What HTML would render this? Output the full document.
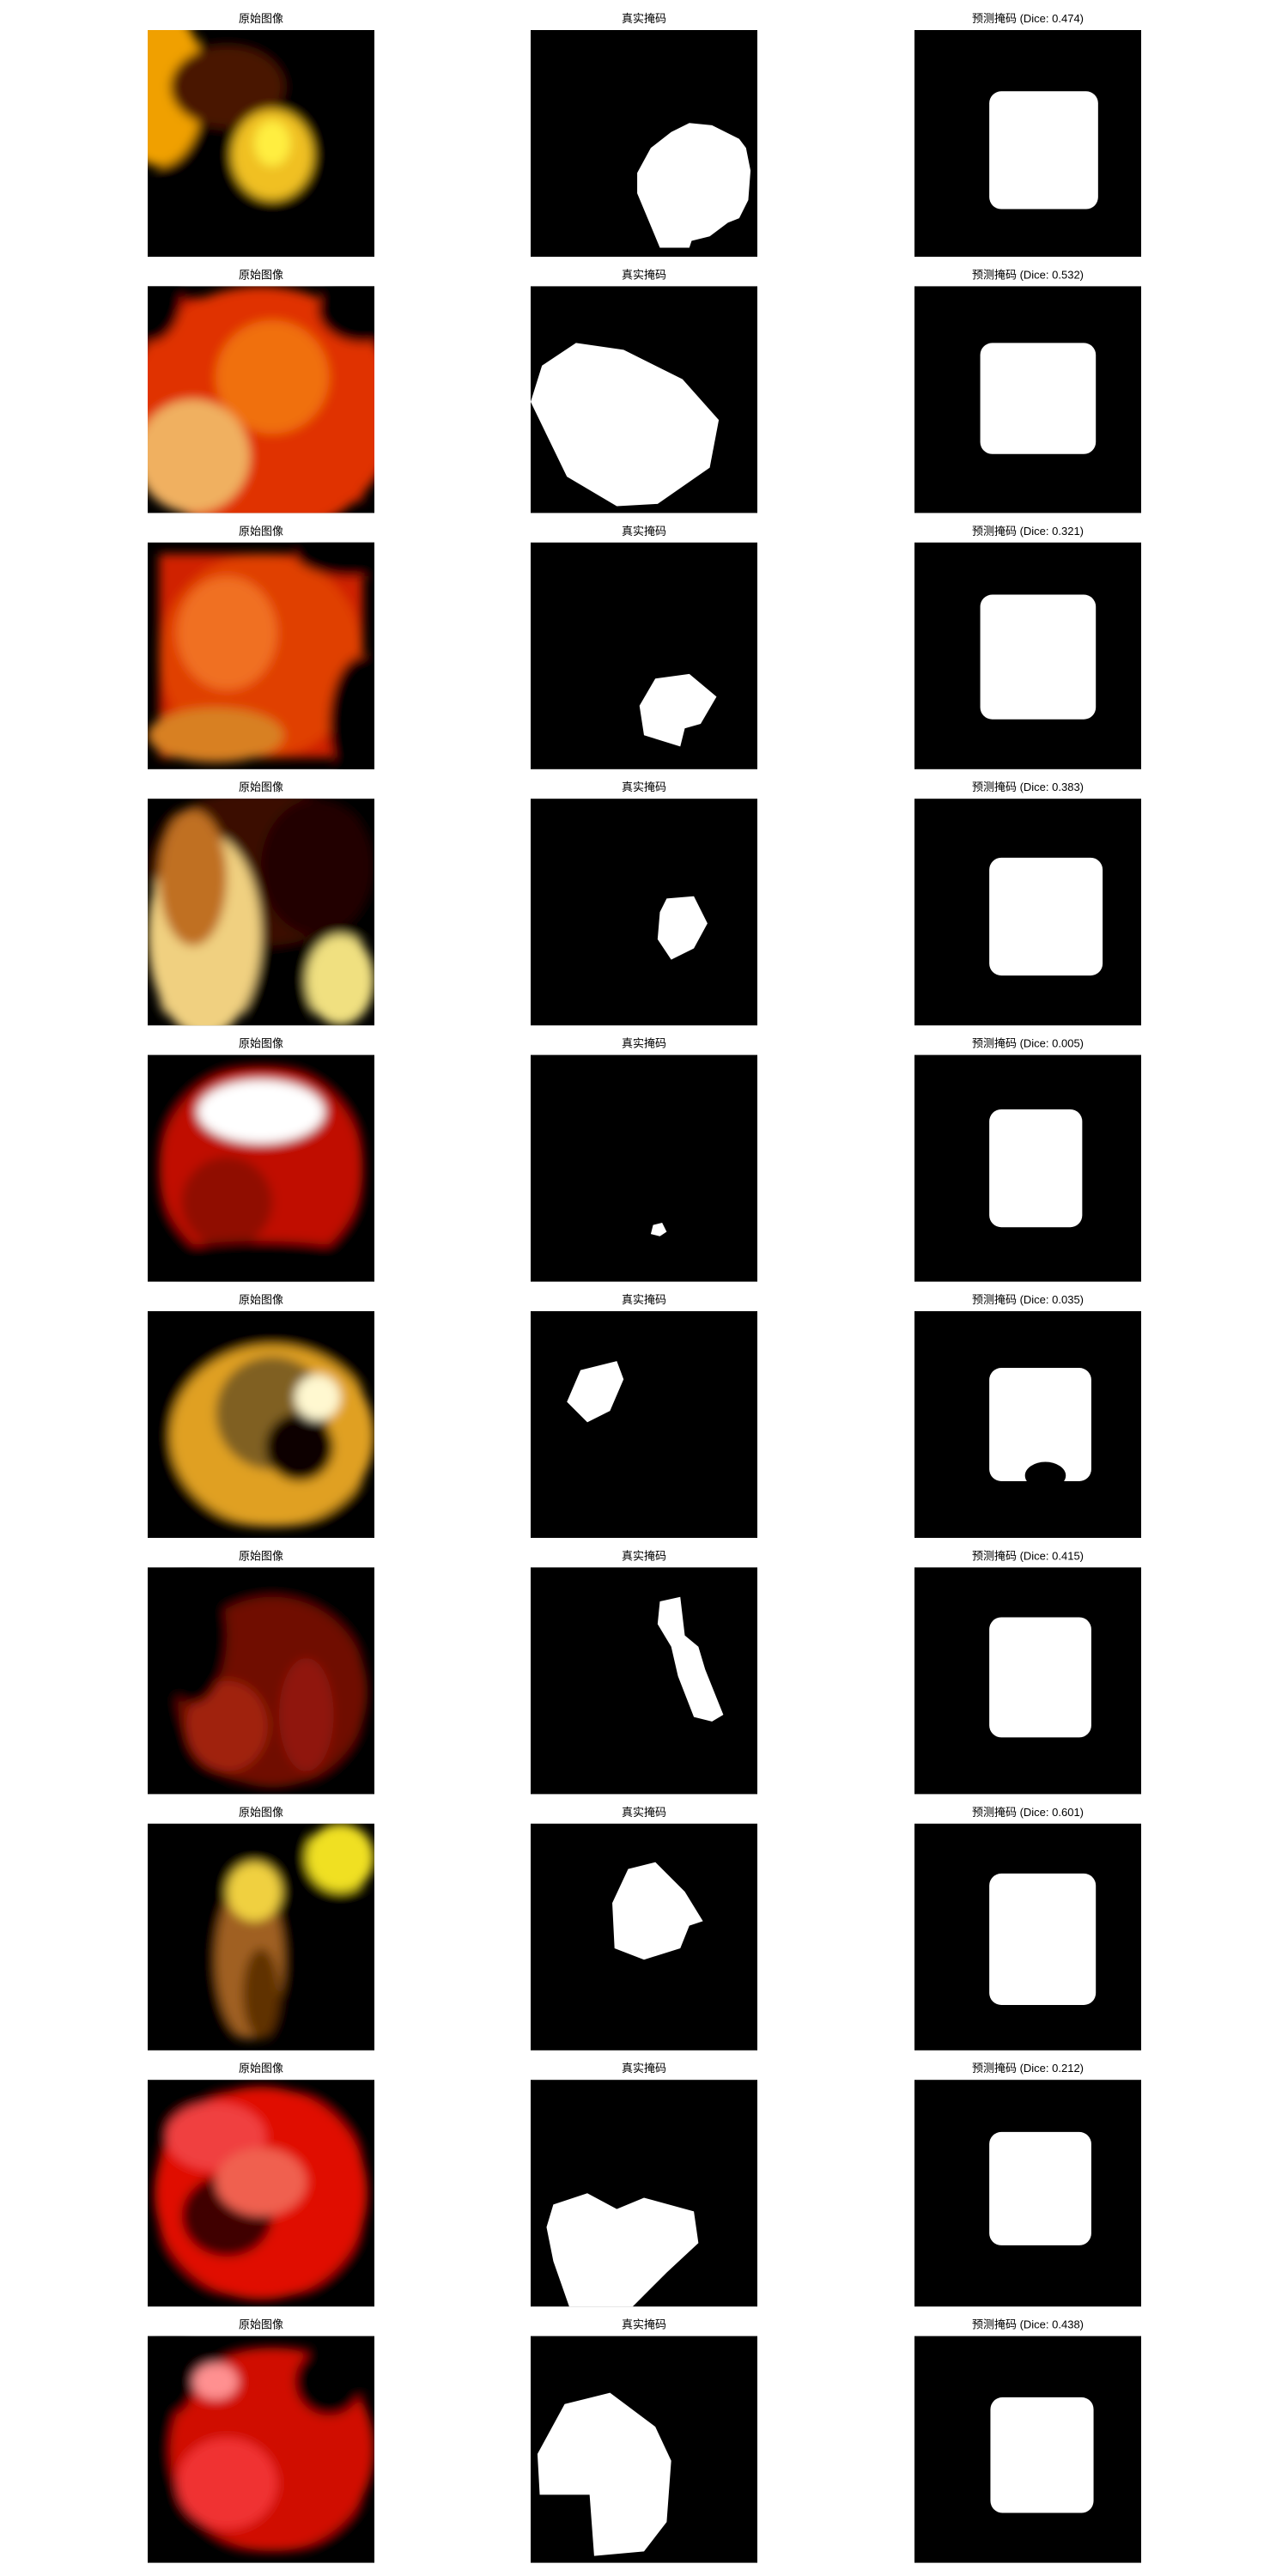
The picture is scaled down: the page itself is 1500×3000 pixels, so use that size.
<!DOCTYPE html>
<html><head><meta charset="utf-8">
<style>
html,body{margin:0;padding:0;background:#fff;width:1500px;height:3000px;overflow:hidden}
svg{display:block}
text{font-family:"Liberation Sans","Noto Sans CJK SC",sans-serif;font-size:13px;fill:#000}
</style></head>
<body>
<svg id="fig" width="1500" height="3000" xmlns="http://www.w3.org/2000/svg">
<defs>
<filter id="blur" x="-20%" y="-20%" width="140%" height="140%"><feGaussianBlur stdDeviation="6"/></filter>
<filter id="blur2"><feGaussianBlur stdDeviation="1.2"/></filter>
</defs>
</svg>
<script>
const NS="http://www.w3.org/2000/svg";
const diceScores=[0.474,0.532,0.321,0.383,0.005,0.035,0.415,0.601,0.212,0.438];
const colTitles=["原始图像","真实掩码","预测掩码"];
const gtMasks=[
[[0.70,0.41],[0.80,0.42],[0.92,0.48],[0.95,0.52],[0.97,0.62],[0.96,0.75],[0.92,0.83],[0.87,0.85],[0.79,0.91],[0.71,0.93],[0.70,0.96],[0.57,0.96],[0.47,0.72],[0.47,0.63],[0.53,0.52],[0.62,0.45]],
[[0.20,0.25],[0.41,0.28],[0.67,0.41],[0.83,0.59],[0.79,0.80],[0.56,0.96],[0.38,0.97],[0.16,0.84],[0.0,0.51],[0.05,0.35]],
[[0.55,0.60],[0.70,0.58],[0.82,0.68],[0.75,0.80],[0.68,0.82],[0.66,0.90],[0.50,0.85],[0.48,0.72]],
[[0.60,0.44],[0.72,0.43],[0.78,0.55],[0.72,0.66],[0.62,0.71],[0.56,0.62],[0.57,0.50]],
[[0.54,0.75],[0.58,0.74],[0.60,0.78],[0.57,0.80],[0.53,0.79]],
[[0.22,0.26],[0.38,0.22],[0.41,0.30],[0.35,0.44],[0.25,0.49],[0.16,0.40]],
[[0.57,0.15],[0.66,0.13],[0.68,0.30],[0.74,0.35],[0.77,0.45],[0.85,0.65],[0.80,0.68],[0.72,0.66],[0.65,0.48],[0.62,0.35],[0.56,0.25]],
[[0.43,0.20],[0.55,0.17],[0.68,0.30],[0.76,0.43],[0.70,0.45],[0.66,0.55],[0.50,0.60],[0.37,0.55],[0.36,0.35]],
[[0.10,0.55],[0.25,0.50],[0.38,0.57],[0.50,0.52],[0.72,0.58],[0.74,0.72],[0.60,0.85],[0.45,1.0],[0.17,1.0],[0.10,0.80],[0.07,0.65]],
[[0.15,0.30],[0.35,0.25],[0.55,0.40],[0.62,0.55],[0.60,0.82],[0.50,0.95],[0.28,0.97],[0.26,0.70],[0.04,0.70],[0.03,0.52]]
];
// predicted mask extents [x0,x1,y0,y1]
const predBoxes=[
[0.33,0.81,0.27,0.79],[0.29,0.80,0.25,0.74],[0.29,0.80,0.23,0.78],[0.33,0.83,0.26,0.78],[0.33,0.74,0.24,0.76],
[0.33,0.78,0.25,0.75],[0.33,0.78,0.22,0.75],[0.33,0.80,0.22,0.80],[0.33,0.78,0.23,0.73],[0.335,0.79,0.27,0.78]
];
const photoBg=["#000","#c81800","#d02000","#000","#000","#000","#000","#000","#000","#000"];
// photo shapes: [type, cx, cy, rx, ry, color]
const photoShapes=[
[["e",0.05,0.25,0.2,0.35,"#f0a000"],["e",0.35,0.25,0.25,0.18,"#4a1400"],["e",0.55,0.55,0.18,0.2,"#f0c020"],["e",0.55,0.5,0.08,0.1,"#ffee40"]],
[["e",0.5,0.55,0.6,0.55,"#e03000"],["e",0.55,0.4,0.25,0.25,"#f07010"],["e",0.2,0.75,0.25,0.25,"#f0b060"],["e",0.95,0.1,0.2,0.15,"#000"],["e",0.0,0.05,0.15,0.2,"#000"]],
[["e",0.5,0.5,0.45,0.45,"#e04000"],["e",0.35,0.4,0.22,0.25,"#f07020"],["e",0.3,0.85,0.3,0.12,"#d88020"],["e",0.95,0.8,0.15,0.3,"#000"],["e",0.9,0.05,0.25,0.1,"#000"]],
[["e",0.5,0.3,0.5,0.35,"#3a0800"],["e",0.25,0.6,0.25,0.45,"#f0d080"],["e",0.2,0.35,0.15,0.3,"#c07020"],["e",0.75,0.3,0.25,0.3,"#200000"],["e",0.85,0.8,0.15,0.2,"#f0e080"]],
[["e",0.5,0.5,0.45,0.45,"#c01000"],["e",0.5,0.25,0.28,0.14,"#ffffff"],["e",0.35,0.65,0.2,0.2,"#900800"],["e",0.5,0.92,0.5,0.1,"#000"]],
[["e",0.55,0.55,0.45,0.4,"#e0a020"],["e",0.55,0.45,0.25,0.25,"#806020"],["e",0.67,0.6,0.15,0.15,"#100000"],["e",0.75,0.38,0.1,0.1,"#fff8d0"]],
[["e",0.55,0.55,0.42,0.42,"#701000"],["e",0.35,0.7,0.18,0.2,"#a02010"],["e",0.7,0.65,0.12,0.25,"#901810"],["e",0.2,0.3,0.15,0.3,"#000"]],
[["e",0.45,0.6,0.15,0.35,"#a06020"],["e",0.47,0.3,0.12,0.13,"#f0d040"],["e",0.85,0.15,0.15,0.15,"#f0e020"],["e",0.5,0.75,0.08,0.2,"#603000"]],
[["e",0.5,0.5,0.47,0.47,"#e01000"],["e",0.3,0.25,0.22,0.15,"#f04040"],["e",0.35,0.6,0.2,0.18,"#400000"],["e",0.5,0.45,0.2,0.15,"#f06050"]],
[["e",0.55,0.5,0.45,0.45,"#d00800"],["e",0.35,0.65,0.22,0.2,"#f03030"],["e",0.8,0.2,0.15,0.15,"#000"],["e",0.1,0.15,0.12,0.2,"#000"],["e",0.3,0.2,0.1,0.08,"#ff9090"]]
];
const colX=[172,618,1065], size=264, top0=35, pitch=298.4;
const fig=document.getElementById('fig');
function mk(tag,attrs,parent){const e=document.createElementNS(NS,tag);for(const k in attrs)e.setAttribute(k,attrs[k]);(parent||fig).appendChild(e);return e;}
function px(x0,v){return x0+v*size;}
for(let r=0;r<10;r++){
  const y0=top0+r*pitch;
  // titles
  for(let c=0;c<3;c++){
    const t=mk('text',{x:colX[c]+size/2,y:y0-9,'text-anchor':'middle'});
    
    
    t.textContent = c===2 ? colTitles[2]+" (Dice: "+diceScores[r].toFixed(3)+")" : colTitles[c];
  }
  // original image
  const g=mk('g',{});
  
  
  const cp=mk('clipPath',{id:'cp'+r},g);
  mk('rect',{x:colX[0],y:y0,width:size,height:size},cp);
  mk('rect',{x:colX[0],y:y0,width:size,height:size,fill:'#000'},g);
  const inner=mk('g',{'clip-path':'url(#cp'+r+')'},g);
  const ig=mk('g',{filter:'url(#blur)'},inner);
  mk('rect',{x:colX[0]+size*0.05,y:y0+size*0.05,width:size*0.9,height:size*0.9,fill:photoBg[r]},ig);
  photoShapes[r].forEach(s=>{
    mk('ellipse',{cx:px(colX[0],s[1]),cy:y0+s[2]*size,rx:s[3]*size,ry:s[4]*size,fill:s[5]},ig);
  });
  // true mask
  const gm=mk('g',{});
  
  
  mk('rect',{x:colX[1],y:y0,width:size,height:size,fill:'#000'},gm);
  const pts=gtMasks[r].map(p=>(px(colX[1],p[0]))+','+(y0+p[1]*size)).join(' ');
  const poly=mk('polygon',{points:pts,fill:'#fff'},gm);
  
  
  // predicted mask
  const gp=mk('g',{});
  
  
  mk('rect',{x:colX[2],y:y0,width:size,height:size,fill:'#000'},gp);
  const b=predBoxes[r];
  const rx=px(colX[2],b[0]), ry=y0+b[2]*size, rw=(b[1]-b[0])*size, rh=(b[3]-b[2])*size;
  const pr=mk('rect',{x:rx,y:ry,width:rw,height:rh,rx:14,ry:14,fill:'#fff'},gp);
  
  
  if(r===5){
    // bottom notch
    mk('ellipse',{cx:rx+rw*0.55,cy:ry+rh*0.95,rx:rw*0.2,ry:rh*0.12,fill:'#000'},gp);
  }
}
</script>
</body></html>
